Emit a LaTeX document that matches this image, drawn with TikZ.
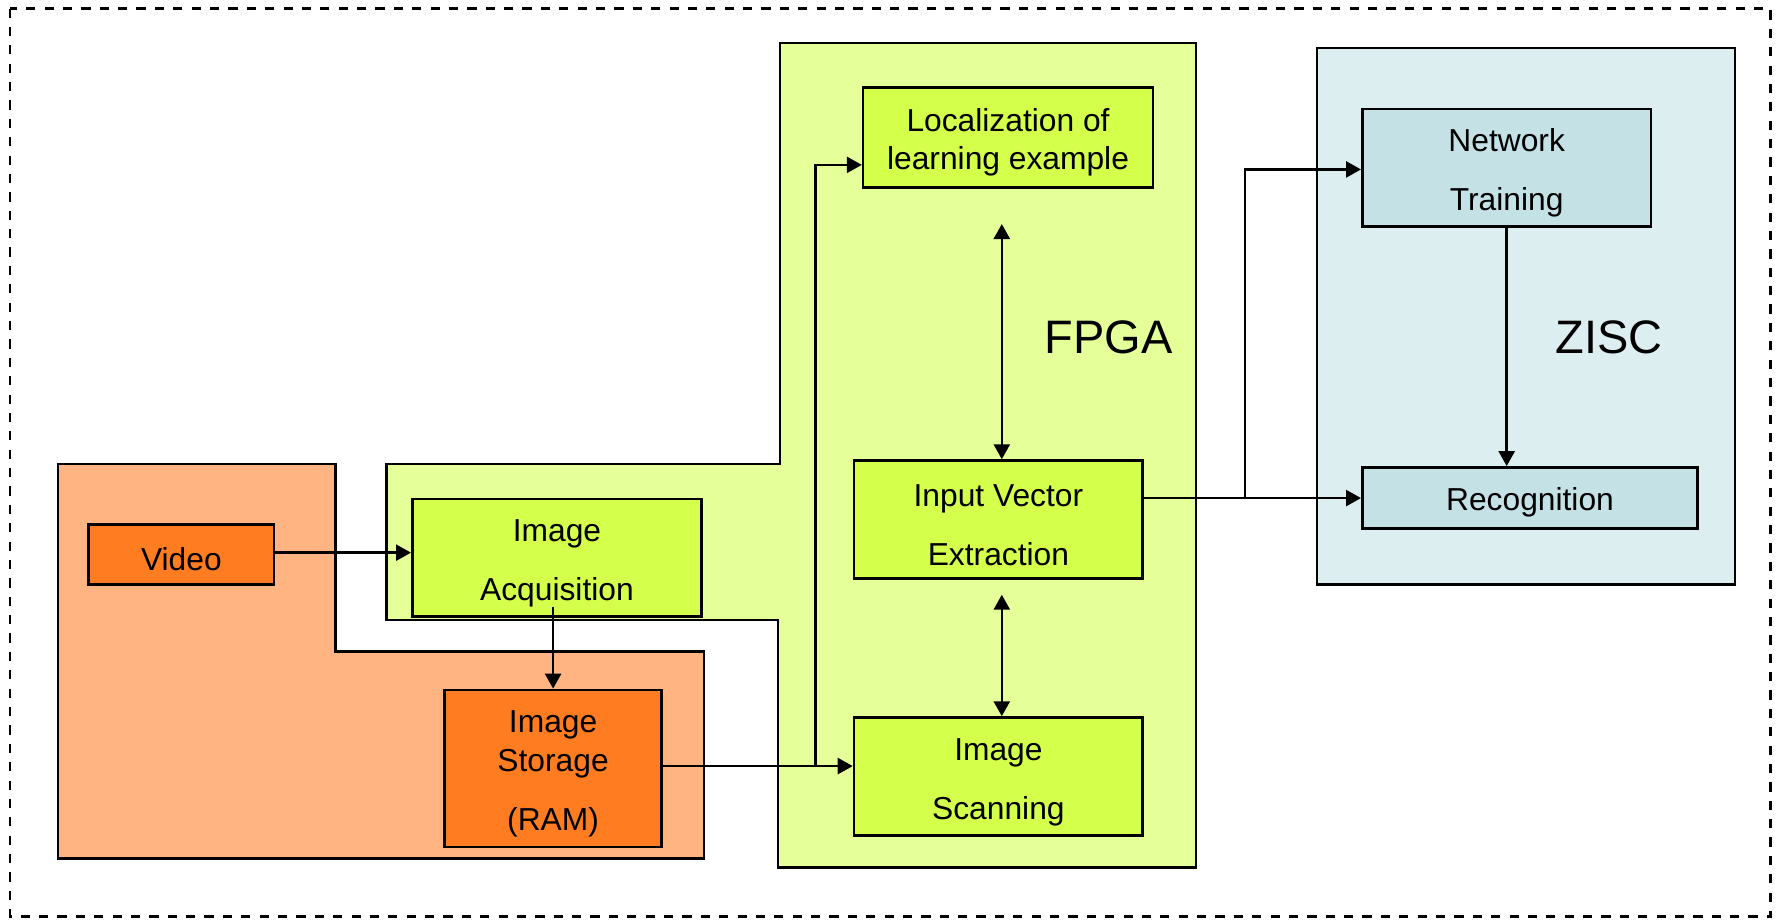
\documentclass[tikz,border=0pt]{standalone}
\usepackage{fontspec}
\setmainfont{Liberation Sans}
\usetikzlibrary{arrows.meta}
\definecolor{orangebox}{RGB}{255,124,33}
\definecolor{orangezone}{RGB}{255,180,130}
\definecolor{greenbox}{RGB}{212,255,74}
\definecolor{greenzone}{RGB}{229,255,153}
\definecolor{bluezone}{RGB}{221,238,241}
\definecolor{bluebox}{RGB}{196,226,229}
% taller first line, so the text sits a little low in its block
\newcommand{\tallline}{\rule{0pt}{16.2pt}}
\begin{document}
\begin{tikzpicture}[x=0.02cm,y=-0.02cm,
  box/.style={draw, line width=1.3pt, inner sep=0pt, align=center,
              font=\fontsize{15.9}{19.5}\selectfont},
  zone/.style={draw, line width=1.2pt},
  tip/.tip={Triangle[length=7.5pt,width=8pt]},
  arr/.style={-tip, line width=1.3pt},
  dbl/.style={tip-tip, line width=1.3pt},
  big/.style={font=\fontsize{23.5}{28}\selectfont}]
\useasboundingbox (0,0) rectangle (1568,809);
% outer dashed frame
\draw[dash pattern=on 4.6pt off 4.6pt, line width=1.1pt] (8.5,7.5) rectangle (1557,806);

% zones
\draw[zone, fill=orangezone] (51,408) -- (295,408) -- (295,573) -- (619,573)
  -- (619,755) -- (51,755) -- cycle;
\draw[zone, fill=greenzone] (340,408) -- (686,408) -- (686,38) -- (1052,38)
  -- (1052,763) -- (684,763) -- (684,545) -- (340,545) -- cycle;
\draw[zone, fill=bluezone] (1158,42) rectangle (1526,514);

\node[big] (fpga) at (975,297) {FPGA};
\node[big] (zisc) at (1415,297) {ZISC};

% blocks
\node[box, fill=orangebox, minimum width=3.26cm, minimum height=1.06cm]
  (video) at (159.5,487.5) {\tallline Video};
\node[box, fill=greenbox, minimum width=5.09cm, minimum height=2.07cm]
  (acq) at (489.8,490.5) {\tallline Image\\[10pt]Acquisition};
\node[box, fill=orangebox, minimum width=3.82cm, minimum height=2.76cm]
  (store) at (486.4,675.7) {\tallline Image\\Storage\\[10pt](RAM)};
\node[box, fill=greenbox, minimum width=5.1cm, minimum height=1.76cm]
  (loc) at (886.5,121) {\tallline Localization of\\learning example};
\node[box, fill=greenbox, minimum width=5.08cm, minimum height=2.08cm]
  (ive) at (878,457) {\tallline Input Vector\\[10pt]Extraction};
\node[box, fill=greenbox, minimum width=5.08cm, minimum height=2.08cm]
  (scan) at (878,683) {\tallline Image\\[10pt]Scanning};
\node[box, fill=bluebox, minimum width=5.08cm, minimum height=2.06cm]
  (train) at (1325,147.5) {\tallline Network\\[10pt]Training};
\node[box, fill=bluebox, minimum width=5.9cm, minimum height=1.08cm]
  (recog) at (1345.5,438) {\tallline Recognition};

% connectors
\draw[arr] ([yshift=0.03cm]video.east) -- ([yshift=0.03cm]video.east -| acq.west);
\draw[arr] ([yshift=0.2cm]acq.south -| store.north) -- (store.north);
\draw[arr] ([yshift=0.04cm]store.east) -- ([yshift=0.04cm]store.east -| scan.west);
\coordinate (split) at (717,673.6);
\draw[arr] (split) |- ([yshift=-0.48cm]loc.west);
\coordinate (locend) at (881,197);
\draw[dbl] (locend) -- (locend |- ive.north);
\coordinate (scanend) at (881,523);
\draw[dbl] (scanend) -- (scanend |- scan.north);
\draw[arr] (recog.west -| ive.east) -- (recog.west);
\coordinate (fork) at (1095,438);
\draw[arr] (fork) |- ([yshift=-0.03cm]train.west);
\draw[arr] (train.south) -- (train.south |- recog.north);
\end{tikzpicture}
\end{document}
